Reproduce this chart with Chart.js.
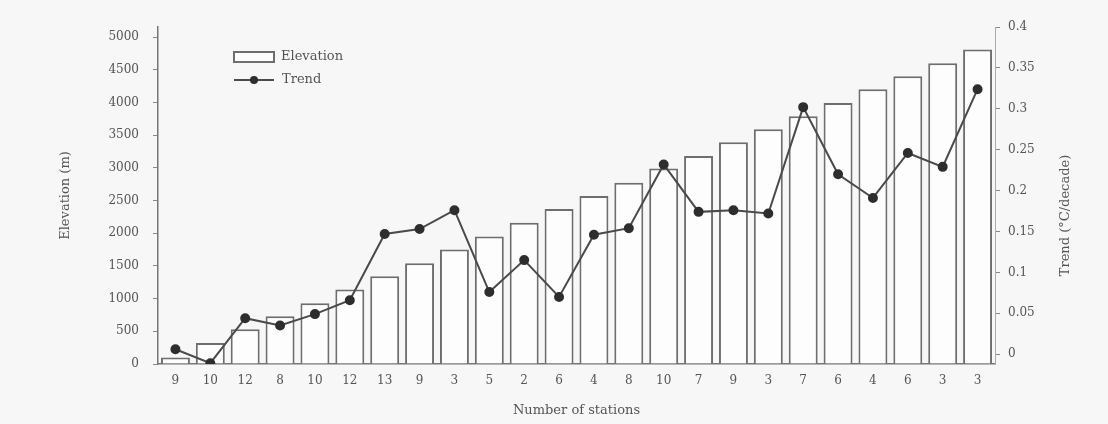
<!DOCTYPE html>
<html lang="en">
<head>
  <meta charset="UTF-8">
  <title>Elevation and Trend</title>
  <style>
    html, body { margin: 0; padding: 0; background: #f7f7f7; }
    #wrap { position: relative; width: 1108px; height: 424px; }
  </style>
</head>
<body>
  <div id="wrap">
    <canvas id="chart" width="1108" height="424"></canvas>
  </div>

  <script src="https://cdn.jsdelivr.net/npm/chart.js"></script>
  <script>
    // Number of stations per elevation band (x axis labels)
    const stations = ['9', '10', '12', '8', '10', '12', '13', '9', '3', '5', '2', '6',
                      '4', '8', '10', '7', '9', '3', '7', '6', '4', '6', '3', '3'];
    // Elevation (m)
    const elevation = [100, 320, 530, 730, 930, 1140, 1340, 1540, 1750, 1950, 2160, 2370,
                       2570, 2770, 2990, 3180, 3390, 3590, 3790, 3990, 4200, 4400, 4600, 4810];
    // Trend (°C/decade)
    const trend = [0.006, -0.011, 0.044, 0.035, 0.049, 0.066, 0.147, 0.153, 0.176, 0.076, 0.115, 0.070,
                   0.146, 0.154, 0.232, 0.174, 0.176, 0.172, 0.302, 0.220, 0.191, 0.246, 0.229, 0.324];
    // Tick labels
    const elevTicks = [0, 500, 1000, 1500, 2000, 2500, 3000, 3500, 4000, 4500, 5000];
    const trendTicks = [0, 0.05, 0.1, 0.15, 0.2, 0.25, 0.3, 0.35, 0.4];

    const ink = '#555';
    const fontFamily = '"DejaVu Serif", "Liberation Serif", serif';

    // legend drawn inside the plot, top-left
    const insideLegend = {
      id: 'insideLegend',
      afterDraw(chart) {
        const ctx = chart.ctx;
        const bar = chart.data.datasets[1];
        const line = chart.data.datasets[0];
        ctx.save();
        ctx.font = '13px ' + fontFamily;
        ctx.textBaseline = 'middle';
        // Elevation box
        ctx.strokeStyle = bar.borderColor;
        ctx.lineWidth = 2;
        ctx.fillStyle = '#fdfdfd';
        ctx.fillRect(234, 52, 40, 10);
        ctx.strokeRect(234, 52, 40, 10);
        ctx.fillStyle = ink;
        ctx.fillText(bar.label, 281, 57);
        // Trend line + dot
        ctx.strokeStyle = line.borderColor;
        ctx.beginPath();
        ctx.moveTo(234, 80);
        ctx.lineTo(274, 80);
        ctx.stroke();
        ctx.fillStyle = line.pointBackgroundColor;
        ctx.beginPath();
        ctx.arc(254, 80, 4, 0, Math.PI * 2);
        ctx.fill();
        ctx.fillStyle = ink;
        ctx.fillText(line.label, 282, 80);
        ctx.restore();
      }
    };

    // right axis title reads bottom-to-top in the original
    const rightTitle = {
      id: 'rightTitle',
      afterDraw(chart) {
        const ctx = chart.ctx;
        const y1 = chart.scales.y1;
        ctx.save();
        ctx.font = '13px ' + fontFamily;
        ctx.fillStyle = ink;
        ctx.textAlign = 'center';
        ctx.textBaseline = 'middle';
        ctx.translate(1066, (y1.top + y1.bottom) / 2 + 20);
        ctx.rotate(-Math.PI / 2);
        ctx.fillText('Trend (°C/decade)', 0, 0);
        ctx.restore();
      }
    };

    const ctx = document.getElementById('chart').getContext('2d');
    new Chart(ctx, {
      data: {
        labels: stations,
        datasets: [
          {
            type: 'line',
            label: 'Trend',
            data: trend,
            yAxisID: 'y1',
            order: 0,
            borderColor: '#4a4a4a',
            borderWidth: 2,
            pointRadius: 4,
            pointBackgroundColor: '#2e2e2e',
            pointBorderColor: '#2e2e2e',
            tension: 0
          },
          {
            type: 'bar',
            label: 'Elevation',
            data: elevation,
            yAxisID: 'y',
            order: 1,
            backgroundColor: '#fdfdfd',
            borderColor: '#6e6e6e',
            borderWidth: 2,
            barPercentage: 0.83,
            categoryPercentage: 1
          }
        ]
      },
      options: {
        responsive: false,
        animation: false,
        layout: { padding: { left: 0, right: 0, top: 27, bottom: 0 } },
        plugins: {
          legend: { display: false },
          tooltip: { enabled: false }
        },
        scales: {
          x: {
            offset: true,
            afterFit: (s) => { s.height = 60; },
            grid: { display: false, drawTicks: false },
            border: { display: true, color: '#777', width: 1.5 },
            ticks: { color: ink, font: { family: fontFamily, size: 12 }, padding: 10 },
            title: {
              display: true,
              text: 'Number of stations',
              color: ink,
              font: { family: fontFamily, size: 13 },
              padding: { top: 0, bottom: 6 }
            }
          },
          y: {
            position: 'left',
            min: 0,
            max: 5153,
            afterFit: (s) => { s.width = 158; },
            afterBuildTicks: (s) => { s.ticks = elevTicks.map(v => ({ value: v })); },
            grid: { drawOnChartArea: false, tickLength: 5, color: '#888' },
            border: { display: true, color: '#777', width: 1.5 },
            ticks: {
              color: ink,
              font: { family: fontFamily, size: 12 },
              padding: 14,
              callback: (v) => String(v)
            },
            title: {
              display: true,
              text: 'Elevation (m)',
              color: ink,
              font: { family: fontFamily, size: 13 },
              padding: { top: 58, bottom: 0 }
            }
          },
          y1: {
            position: 'right',
            min: -0.012,
            max: 0.4,
            afterFit: (s) => { s.width = 113; },
            afterBuildTicks: (s) => { s.ticks = trendTicks.map(v => ({ value: v })); },
            grid: { drawOnChartArea: false, tickLength: 5, color: '#888' },
            border: { display: true, color: '#aaa', width: 1 },
            ticks: {
              color: ink,
              font: { family: fontFamily, size: 12 },
              padding: 8,
              callback: (v) => String(+v.toFixed(2))
            }
          }
        }
      },
      plugins: [insideLegend, rightTitle]
    });
  </script>
</body>
</html>
